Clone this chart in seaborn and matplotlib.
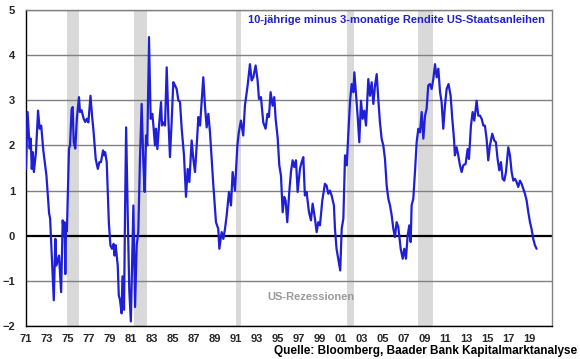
import matplotlib
matplotlib.use("Agg")
from matplotlib import pyplot as plt
import seaborn as sns
import pandas as pd

# spread 10y minus 3m US treasuries (decimal year, percent points)
years = [
    1971.0, 1971.15, 1971.35, 1971.45, 1971.55, 1971.65, 1971.75, 1971.95, 1972.15, 1972.3,
    1972.45, 1972.65, 1972.95, 1973.2, 1973.3, 1973.65, 1973.8, 1973.9, 1974.15, 1974.35,
    1974.5, 1974.6, 1974.68, 1974.75, 1974.82, 1974.9, 1975.1, 1975.2, 1975.35, 1975.45,
    1975.55, 1975.7, 1975.85, 1976.05, 1976.15, 1976.3, 1976.5, 1976.65, 1976.8, 1976.95,
    1977.15, 1977.3, 1977.45, 1977.65, 1977.85, 1978.0, 1978.15, 1978.35, 1978.45, 1978.55,
    1978.7, 1978.9, 1979.05, 1979.2, 1979.35, 1979.45, 1979.55, 1979.75, 1979.85, 1979.96,
    1980.12, 1980.2, 1980.35, 1980.45, 1980.55, 1980.7, 1980.85, 1981.0, 1981.24, 1981.4,
    1981.56, 1981.71, 1981.87, 1982.03, 1982.19, 1982.32, 1982.45, 1982.57, 1982.73, 1982.89,
    1983.05, 1983.15, 1983.3, 1983.4, 1983.53, 1983.69, 1983.88, 1983.97, 1984.1, 1984.26,
    1984.42, 1984.58, 1984.73, 1984.89, 1985.05, 1985.21, 1985.37, 1985.53, 1985.69, 1985.85,
    1986.07, 1986.26, 1986.42, 1986.58, 1986.8, 1986.96, 1987.12, 1987.28, 1987.44, 1987.6,
    1987.75, 1987.91, 1988.07, 1988.23, 1988.39, 1988.55, 1988.87, 1989.12, 1989.34, 1989.44,
    1989.66, 1989.82, 1989.98, 1990.14, 1990.36, 1990.55, 1990.71, 1990.93, 1991.16, 1991.3,
    1991.5, 1991.72, 1991.88, 1992.14, 1992.36, 1992.52, 1992.68, 1992.9, 1993.09, 1993.22,
    1993.41, 1993.63, 1993.85, 1994.04, 1994.17, 1994.33, 1994.52, 1994.68, 1994.81, 1995.0,
    1995.16, 1995.32, 1995.48, 1995.63, 1995.76, 1995.92, 1996.11, 1996.27, 1996.43, 1996.59,
    1996.75, 1996.91, 1997.13, 1997.29, 1997.45, 1997.6, 1997.76, 1997.99, 1998.18, 1998.34,
    1998.56, 1998.72, 1998.88, 1999.04, 1999.26, 1999.51, 1999.67, 1999.83, 1999.99, 2000.15,
    2000.37, 2000.47, 2000.62, 2000.78, 2000.97, 2001.11, 2001.27, 2001.43, 2001.59, 2001.74,
    2001.9, 2002.06, 2002.22, 2002.32, 2002.48, 2002.63, 2002.79, 2002.95, 2003.11, 2003.27,
    2003.43, 2003.65, 2003.81, 2003.97, 2004.13, 2004.29, 2004.45, 2004.6, 2004.76, 2004.92,
    2005.08, 2005.24, 2005.4, 2005.56, 2005.72, 2005.88, 2006.04, 2006.19, 2006.35, 2006.51,
    2006.74, 2006.93, 2007.08, 2007.24, 2007.4, 2007.56, 2007.69, 2007.78, 2007.94, 2008.1,
    2008.26, 2008.42, 2008.58, 2008.74, 2008.9, 2009.06, 2009.21, 2009.37, 2009.53, 2009.69,
    2009.85, 2010.01, 2010.17, 2010.33, 2010.49, 2010.64, 2010.8, 2010.96, 2011.12, 2011.3,
    2011.5, 2011.66, 2011.82, 2011.91, 2012.07, 2012.23, 2012.39, 2012.55, 2012.71, 2012.93,
    2013.12, 2013.25, 2013.44, 2013.6, 2013.76, 2013.98, 2014.14, 2014.3, 2014.46, 2014.62,
    2014.77, 2014.93, 2015.09, 2015.25, 2015.47, 2015.66, 2015.82, 2015.98, 2016.14, 2016.3,
    2016.46, 2016.62, 2016.78, 2017.0, 2017.16, 2017.32, 2017.48, 2017.64, 2017.79, 2017.95,
    2018.11, 2018.27, 2018.43, 2018.59, 2018.75, 2018.91, 2019.07, 2019.22, 2019.38, 2019.54,
    2019.7,
]
spread = [
    1.48, 2.74, 1.93, 2.15, 1.48, 1.85, 1.41, 1.85, 2.77, 2.37,
    2.44, 1.89, 1.33, 0.50, 0.38, -1.43, -0.07, -0.66, -0.44, -1.25,
    0.34, 0.05, 0.30, -0.85, 0.20, 0.10, 1.93, 2.00, 2.80, 2.85,
    2.07, 1.93, 2.59, 3.07, 2.74, 2.78, 2.59, 2.52, 2.59, 2.51,
    3.10, 2.66, 2.29, 1.70, 1.48, 1.63, 1.63, 1.89, 1.78, 1.85,
    1.63, 0.30, -0.21, -0.29, -0.18, -0.44, -0.21, -0.66, -1.32, -1.42,
    -1.72, -0.90, -1.64, 0.60, 2.40, 0.50, -1.20, -1.90, 0.67, -1.58,
    -0.21, 0.08, 1.70, 2.92, 1.63, 0.97, 2.22, 2.00, 4.40, 2.59,
    2.70, 2.44, 2.00, 2.37, 1.92, 2.44, 2.96, 2.44, 2.51, 2.44,
    3.73, 2.59, 1.74, 2.51, 3.40, 3.33, 3.25, 3.00, 2.96, 2.37,
    1.78, 0.86, 1.48, 1.19, 2.11, 1.70, 1.41, 2.00, 2.63, 2.44,
    2.96, 3.51, 2.88, 2.40, 2.70, 2.29, 1.11, 0.30, 0.15, -0.29,
    0.08, -0.07, 0.15, 0.45, 0.97, 0.67, 1.41, 1.00, 2.00, 2.29,
    2.55, 2.22, 2.88, 3.33, 3.80, 3.44, 3.51, 3.77, 3.44, 3.03,
    3.07, 2.51, 2.37, 2.70, 2.63, 3.18, 2.88, 3.07, 2.59, 2.18,
    1.56, 1.33, 0.52, 0.86, 0.78, 0.30, 0.97, 1.41, 1.67, 1.52,
    1.67, 0.97, 1.48, 1.63, 1.74, 0.89, 0.97, 0.52, 0.34, 0.71,
    0.38, 0.08, 0.30, 0.23, 0.78, 1.15, 1.11, 0.93, 1.00, 0.89,
    0.67, 0.15, -0.29, -0.51, -0.77, 0.15, 0.38, 1.78, 1.56, 2.22,
    2.96, 3.36, 3.18, 3.62, 3.14, 2.66, 2.07, 2.99, 2.59, 2.77,
    2.44, 3.47, 3.10, 3.40, 2.92, 3.33, 3.58, 3.03, 2.51, 2.15,
    2.00, 1.70, 1.11, 0.82, 0.67, 0.45, 0.15, -0.03, 0.30, 0.19,
    -0.29, -0.51, -0.29, -0.51, 0.00, 0.23, -0.14, 0.67, 0.82, 1.41,
    2.07, 2.37, 2.29, 2.74, 2.15, 2.66, 2.81, 3.33, 3.36, 3.25,
    3.47, 3.80, 3.51, 3.70, 3.18, 2.96, 2.37, 2.88, 3.25, 3.36,
    3.10, 2.59, 2.15, 1.78, 1.96, 1.78, 1.56, 1.41, 1.56, 1.59,
    1.92, 1.70, 2.44, 2.74, 2.55, 2.99, 2.66, 2.66, 2.59, 2.44,
    2.44, 2.15, 1.67, 2.00, 2.26, 2.11, 2.07, 1.70, 1.45, 1.63,
    1.26, 1.22, 1.41, 1.96, 1.78, 1.41, 1.22, 1.26, 1.19, 1.08,
    1.22, 1.15, 1.04, 0.93, 0.78, 0.52, 0.30, 0.15, -0.07, -0.21,
    -0.29,
]

# recession shading as drawn in the chart
rec_start = [1974.94, 1981.33, 1991.03, 2001.59, 2008.42]
rec_end = [1976.08, 1982.51, 1991.48, 2002.31, 2009.79]

x_ticks = list(range(1971, 2021, 2))
x_labels = [f"{y % 100:02d}" for y in x_ticks]
y_ticks = list(range(-2, 6))

title = "10-jährige minus 3-monatige Rendite US-Staatsanleihen"
source = "Quelle: Bloomberg, Baader Bank Kapitalmarktanalyse"

df = pd.DataFrame({"jahr": years, "spread": spread})

sns.set_style("white")
plt.rcParams["font.family"] = ["Liberation Sans", "DejaVu Sans"]

fig = plt.figure(figsize=(5.8, 3.59), dpi=100)
ax = fig.add_axes([26 / 580, 33 / 359, 526 / 580, 316 / 359])

for a, b in zip(rec_start, rec_end):
    ax.axvspan(a, b, color="#d9d9d9", lw=0, zorder=0)

for t in y_ticks:
    if t != 0:
        ax.axhline(t, color="#808080", lw=1.0, zorder=1)
ax.axhline(0, color="black", lw=1.6, zorder=2)

sns.lineplot(data=df, x="jahr", y="spread", ax=ax, color="#1f1fd8",
             lw=1.6, estimator=None, zorder=3)

ax.set_xlim(1971, 2021.17)
ax.set_ylim(-2, 5)
ax.set_xticks(x_ticks)
ax.set_xticklabels(x_labels)
ax.set_yticks(y_ticks)
ax.set_xlabel("")
ax.set_ylabel("")
ax.tick_params(axis="both", direction="out", length=4, width=1, color="black",
               labelsize=8, pad=2)
ax.tick_params(axis="y", pad=4)
for lab in ax.get_xticklabels() + ax.get_yticklabels():
    lab.set_fontweight("bold")

for side in ["left", "bottom"]:
    ax.spines[side].set_color("black")
    ax.spines[side].set_linewidth(1.0)
for side in ["top", "right"]:
    ax.spines[side].set_color("#808080")
    ax.spines[side].set_linewidth(1.0)

fig.text(545 / 580, 1 - 20 / 359, title, ha="right", va="center",
         fontsize=8, fontweight="bold", color="#2020d0")
ax.text(1998.2, -1.36, "US-Rezessionen", ha="center", va="center",
        fontsize=8, fontweight="bold", color="#9a9a9a")
fig.text(577 / 580, 1 - 351 / 359, source, ha="right", va="center",
         fontsize=8.5, fontweight="bold", color="black")

fig.savefig("out.png", dpi=100)
